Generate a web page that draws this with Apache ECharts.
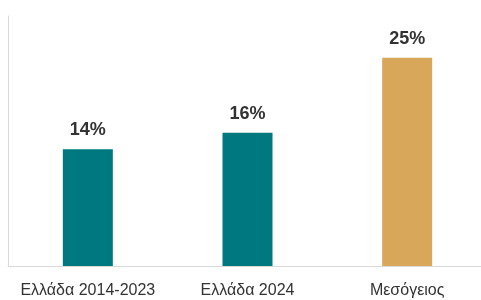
<!DOCTYPE html>
<html><head><meta charset="utf-8">
<script src="https://cdn.jsdelivr.net/npm/echarts@6/dist/echarts.min.js"></script>
<style>html,body{margin:0;padding:0;background:#fff}#c{width:481px;height:300px}</style>
</head><body><div id="c"></div>
<script>
const categories = ['Ελλάδα 2014-2023', 'Ελλάδα 2024', 'Μεσόγειος'];
const values = [14, 16, 25];
const barColors = ['#007880', '#007880', '#D8A75A'];

const chart = echarts.init(document.getElementById('c'));
chart.setOption({
  animation: false,
  grid: {left: 8, width: 479, top: 16, bottom: 34, containLabel: false, outerBoundsMode: 'none'},
  xAxis: {
    type: 'category', data: categories,
    axisLine: {show: true, lineStyle: {color: '#d9d9d9', width: 1}},
    axisTick: {show: false},
    axisLabel: {interval: 0, hideOverlap: false, color: '#333', fontSize: 16, margin: 17, fontFamily: 'Liberation Sans, Arial, sans-serif'}
  },
  yAxis: {
    type: 'value', min: 0, max: 30, interval: 10,
    axisLine: {show: true, lineStyle: {color: '#d9d9d9', width: 1}},
    axisTick: {show: false},
    axisLabel: {show: false},
    splitLine: {show: false}
  },
  series: [{
    type: 'bar', barWidth: 50,
    data: values.map((v, i) => ({value: v, itemStyle: {color: barColors[i]}})),
    label: {show: true, position: 'top', distance: 10, formatter: '{c}%',
      color: '#333', fontSize: 18, fontWeight: 'bold', fontFamily: 'Liberation Sans, Arial, sans-serif'}
  }]
});
</script></body></html>
